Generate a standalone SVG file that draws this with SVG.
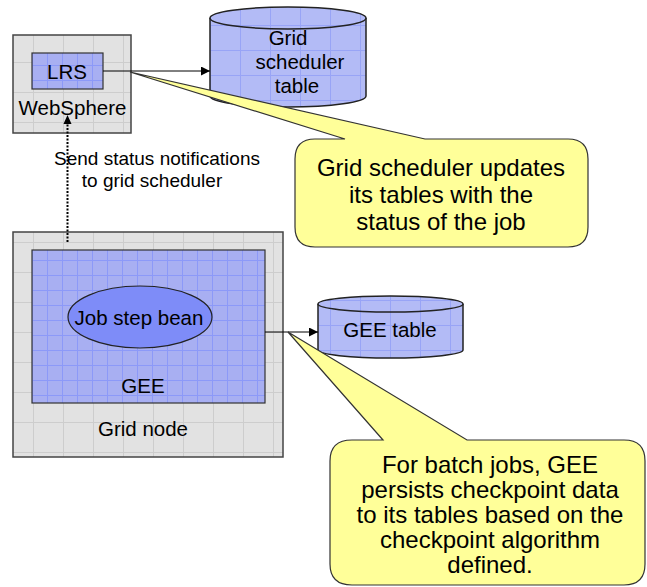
<svg xmlns="http://www.w3.org/2000/svg" width="647" height="587" viewBox="0 0 647 587">
  <defs>
    <!-- light grey grid fill for container boxes -->
    <pattern id="greyGrid" patternUnits="userSpaceOnUse" x="3" y="2" width="30" height="30">
      <rect width="30" height="30" fill="#e2e2e2"/>
      <path d="M0 0.5H30M0.5 0V30" stroke="#cdcdcd" stroke-width="1" fill="none"/>
    </pattern>
    <!-- blue grid fill for components -->
    <pattern id="blueGrid" patternUnits="userSpaceOnUse" x="2" y="5" width="15" height="15">
      <rect width="15" height="15" fill="#a8aff2"/>
      <path d="M0 0.5H15M0.5 0V15" stroke="#8c99f8" stroke-width="1" fill="none"/>
    </pattern>
    <pattern id="tableGrid" patternUnits="userSpaceOnUse" x="0" y="0" width="30" height="25">
      <rect width="30" height="25" fill="#b3bbf6"/>
      <path d="M0 0.5H30M0.5 0V25" stroke="#98a4f6" stroke-width="1" fill="none"/>
    </pattern>
    <marker id="arrow" viewBox="0 0 10 10" refX="10" refY="5" markerWidth="9" markerHeight="9" markerUnits="userSpaceOnUse" orient="auto">
      <path d="M0 0L10 5L0 10Z" fill="#000"/>
    </marker>
  </defs>
  <style>
    text { font-family: "Liberation Sans", Arial, sans-serif; fill: #000; text-anchor: middle; }
    .lbl { font-size: 20.5px; }
    .note { font-size: 24px; }
    .msg { font-size: 19px; }
    .box { fill: url(#greyGrid); stroke: #444; stroke-width: 1.5; }
    .comp { fill: url(#blueGrid); stroke: #333; stroke-width: 1.2; }
    .table { fill: url(#tableGrid); stroke: #222; stroke-width: 1.5; }
    .callout { fill: #ffff99; stroke: #333; stroke-width: 1.2; }
    .link { stroke: #000; stroke-width: 1; fill: none; }
    .dotted { stroke: #000; stroke-width: 2; stroke-dasharray: 2 1.5; fill: none; }
  </style>

  <rect width="647" height="587" fill="#fff"/>

  <!-- WebSphere server hosting the LRS -->
  <g id="websphere">
    <rect class="box" x="13" y="35" width="118" height="98"/>
    <text class="lbl" x="72.5" y="115">WebSphere</text>
  </g>
  <g id="lrs">
    <rect class="comp" x="32" y="53" width="71" height="36"/>
    <text class="lbl" x="67" y="79">LRS</text>
  </g>

  <!-- grid scheduler table -->
  <g id="scheduler-table">
    <path class="table" d="M210 18V96A78 11 0 0 0 366 96V18"/>
    <ellipse class="table" cx="288" cy="18" rx="78" ry="11"/>
    <text class="lbl" x="288" y="45">Grid</text>
    <text class="lbl" x="300" y="69">scheduler</text>
    <text class="lbl" x="297" y="93">table</text>
  </g>

  <!-- grid node containing the GEE -->
  <g id="grid-node">
    <rect class="box" x="13" y="232" width="270" height="225"/>
    <text class="lbl" x="143" y="436">Grid node</text>
  </g>
  <g id="gee">
    <rect class="comp" x="32" y="250" width="233" height="153"/>
    <text class="lbl" x="143" y="393">GEE</text>
  </g>
  <g id="job-step-bean">
    <ellipse cx="140" cy="317" rx="72" ry="31" fill="#7e8cf8" stroke="#222" stroke-width="1.2"/>
    <text class="lbl" x="139" y="325">Job step bean</text>
  </g>

  <!-- GEE table -->
  <g id="gee-table">
    <path class="table" d="M318 304V350A72.5 8 0 0 0 463 350V304"/>
    <ellipse class="table" cx="390.5" cy="304" rx="72.5" ry="8"/>
    <text class="lbl" x="390" y="337">GEE table</text>
  </g>

  <!-- connectors -->
  <g id="connectors">
    <line class="link" x1="103" y1="71" x2="210" y2="71" marker-end="url(#arrow)"/>
    <line class="link" x1="265" y1="332" x2="318" y2="332" marker-end="url(#arrow)"/>
    <line class="dotted" x1="67.5" y1="242" x2="67.5" y2="122"/>
    <path d="M63.5 124L67.5 115L71.5 124Z" fill="#000"/>
    <text class="msg" x="157" y="165">Send status notifications</text>
    <text class="msg" x="152" y="187">to grid scheduler</text>
  </g>

  <!-- callouts -->
  <g id="callout-scheduler">
    <path class="callout" d="M315 139H345L130 72L425 139H568Q588 139 588 159V227Q588 247 568 247H315Q295 247 295 227V159Q295 139 315 139Z"/>
    <text class="note" x="441" y="176">Grid scheduler updates</text>
    <text class="note" x="441" y="203">its tables with the</text>
    <text class="note" x="441" y="230">status of the job</text>
  </g>
  <g id="callout-gee">
    <path class="callout" d="M352 440H383L288 332L467 440H624Q645 440 645 461V564Q645 585 624 585H352Q330 585 330 564V461Q330 440 352 440Z"/>
    <text class="note" x="490" y="473">For batch jobs, GEE</text>
    <text class="note" x="490" y="498">persists checkpoint data</text>
    <text class="note" x="490" y="523">to its tables based on the</text>
    <text class="note" x="490" y="548">checkpoint algorithm</text>
    <text class="note" x="490" y="573">defined.</text>
  </g>
</svg>
